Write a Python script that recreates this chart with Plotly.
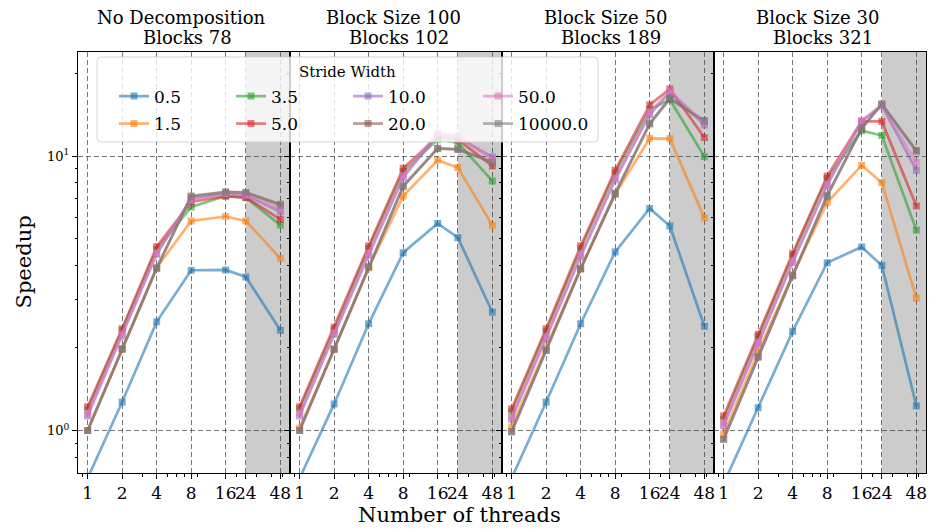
import math
import plotly.graph_objects as go
from plotly.subplots import make_subplots

# ---------------- data ----------------
threads = [1, 2, 4, 8, 16, 24, 48]
thread_labels = ["1", "2", "4", "8", "16", "24", "48"]
stride_widths = ["0.5", "1.5", "3.5", "5.0", "10.0", "20.0", "50.0", "10000.0"]
panel_titles = ["No Decomposition", "Block Size 100", "Block Size 50", "Block Size 30"]
panel_blocks = ["Blocks 78", "Blocks 102", "Blocks 189", "Blocks 321"]
y_tick_vals = [1, 10]
y_tick_text = ["10<sup>0</sup>", "10<sup>1</sup>"]

# speedup per stride width (rows follow stride_widths), columns follow threads
speedup_no_decomposition = [
    [0.67, 1.27, 2.49, 3.84, 3.85, 3.63, 2.32],
    [1.00, 1.98, 3.92, 5.81, 6.03, 5.81, 4.24],
    [1.19, 2.32, 4.58, 6.53, 7.16, 7.07, 5.61],
    [1.22, 2.35, 4.68, 6.81, 7.16, 7.07, 5.89],
    [1.13, 2.21, 4.39, 7.01, 7.30, 7.20, 6.28],
    [1.00, 1.98, 3.90, 7.16, 7.41, 7.38, 6.68],
    [1.15, 2.25, 4.45, 6.90, 7.30, 7.20, 6.40],
    [1.00, 1.99, 3.92, 7.12, 7.40, 7.36, 6.62],
]
speedup_block_100 = [
    [0.67, 1.25, 2.45, 4.45, 5.69, 5.05, 2.70],
    [1.02, 1.98, 3.92, 7.16, 9.67, 9.09, 5.60],
    [1.20, 2.33, 4.62, 8.80, 11.5, 11.2, 8.13],
    [1.22, 2.38, 4.71, 9.04, 11.8, 11.5, 9.22],
    [1.13, 2.24, 4.35, 8.36, 12.0, 11.7, 9.94],
    [1.00, 1.98, 3.95, 7.75, 10.67, 10.6, 9.53],
    [1.15, 2.28, 4.45, 8.50, 12.2, 11.9, 9.70],
    [1.00, 1.98, 3.95, 7.80, 10.7, 10.6, 9.50],
]
speedup_block_50 = [
    [0.67, 1.27, 2.45, 4.48, 6.45, 5.57, 2.40],
    [1.03, 2.00, 3.90, 7.27, 11.63, 11.6, 5.96],
    [1.17, 2.30, 4.60, 8.70, 14.8, 16.1, 9.97],
    [1.20, 2.35, 4.71, 8.89, 15.4, 17.6, 11.7],
    [1.10, 2.16, 4.30, 8.20, 14.2, 17.1, 13.0],
    [0.99, 1.96, 3.88, 7.30, 13.1, 16.2, 13.5],
    [1.12, 2.20, 4.40, 8.30, 14.5, 17.3, 13.2],
    [0.99, 1.96, 3.90, 7.35, 13.2, 16.3, 13.4],
]
speedup_block_30 = [
    [0.64, 1.21, 2.30, 4.09, 4.67, 4.00, 1.23],
    [0.97, 1.93, 3.70, 6.78, 9.27, 8.01, 3.04],
    [1.10, 2.20, 4.35, 8.30, 12.4, 11.9, 5.38],
    [1.13, 2.24, 4.43, 8.47, 13.4, 13.4, 6.59],
    [1.04, 2.07, 4.10, 7.84, 13.4, 15.3, 8.89],
    [0.93, 1.85, 3.66, 7.16, 12.6, 15.5, 10.5],
    [1.06, 2.10, 4.15, 7.90, 13.5, 15.4, 9.50],
    [0.93, 1.86, 3.68, 7.20, 12.7, 15.5, 10.4],
]
panels = [speedup_no_decomposition, speedup_block_100, speedup_block_50, speedup_block_30]

# ---------------- style ----------------
colors = ["#1f77b4", "#ff7f0e", "#2ca02c", "#d62728",
          "#9467bd", "#8c564b", "#e377c2", "#7f7f7f"]
FONT = "DejaVu Serif"
W, H = 939, 529
ML, MR, MT, MB = 78, 13, 52, 56
PW, PH = W - ML - MR, H - MT - MB


def rgba(hx, a):
    hx = hx.lstrip("#")
    return "rgba(%d,%d,%d,%.2f)" % (int(hx[0:2], 16), int(hx[2:4], 16), int(hx[4:6], 16), a)


def px_x(x):
    return (x - ML) / PW


def px_y(y):
    return (H - MB - y) / PH


legend_col_width = [72, 72, 85, 100]

fig = make_subplots(rows=1, cols=4, shared_yaxes=True, horizontal_spacing=0)

for p, data in enumerate(panels):
    for k, sw in enumerate(stride_widths):
        col, row = k // 2, k % 2
        fig.add_trace(
            go.Scatter(
                x=threads, y=data[k], mode="lines+markers", name=sw,
                line=dict(color=rgba(colors[k], 0.6), width=2.7),
                marker=dict(symbol="square", size=7, color=rgba(colors[k], 0.6),
                            line=dict(width=0)),
                showlegend=(p == 0),
                legend="legend" if row == 0 else "legend2",
                legendwidth=legend_col_width[col],
            ),
            row=1, col=p + 1,
        )

xr = [-0.05 * math.log10(48), 1.05 * math.log10(48)]
yr = [math.log10(0.7), math.log10(24)]
x_minor = [0.9, 2, 3, 4, 5, 6, 7, 8, 9, 20, 30, 40, 50]
y_minor = [0.8, 0.9, 2, 3, 4, 5, 6, 7, 8, 9, 20]
grid_col = "rgba(60,60,60,0.7)"

for i in range(4):
    sfx = "" if i == 0 else str(i + 1)
    fig.update_layout(**{
        "xaxis" + sfx: dict(
            type="log", range=xr, domain=[i / 4, (i + 1) / 4],
            tickmode="array", tickvals=threads, ticktext=thread_labels, tickangle=0,
            ticks="outside", ticklen=5, tickwidth=1, tickcolor="black",
            showline=True, linecolor="black", linewidth=1, mirror=True,
            showgrid=True, gridcolor=grid_col, griddash="5px,3px", gridwidth=1.1,
            zeroline=False, tickfont=dict(family=FONT, size=17, color="black"),
            minor=dict(tickmode="array", tickvals=x_minor, ticks="outside", ticklen=2.5,
                       tickwidth=0.8, tickcolor="black", showgrid=False),
        ),
        "yaxis" + sfx: dict(
            type="log", range=yr,
            tickmode="array", tickvals=y_tick_vals, ticktext=y_tick_text,
            showticklabels=(i == 0),
            ticks="outside", ticklen=5, tickwidth=1, tickcolor="black",
            showline=True, linecolor="black", linewidth=1, mirror=True,
            showgrid=True, gridcolor=grid_col, griddash="5px,3px", gridwidth=1.1,
            zeroline=False, tickfont=dict(family=FONT, size=13, color="black"),
            minor=dict(tickmode="array", tickvals=y_minor, ticks="outside", ticklen=2.5,
                       tickwidth=0.8, tickcolor="black", showgrid=False),
        ),
    })
    # shaded region (24 threads and beyond)
    fig.add_shape(type="rect", xref="x" + sfx, yref="y" + sfx + " domain",
                  x0=24, x1=10 ** xr[1], y0=0, y1=1,
                  fillcolor="#cccccc", line=dict(width=0), layer="below")
    # titles (two lines)
    cx = (i + 0.5) / 4
    fig.add_annotation(text=panel_titles[i], xref="paper", yref="paper", x=cx, y=px_y(17.5),
                       xanchor="center", yanchor="middle", showarrow=False, xshift=-3,
                       font=dict(family=FONT, size=18, color="black"))
    fig.add_annotation(text=panel_blocks[i], xref="paper", yref="paper", x=cx, y=px_y(37),
                       xanchor="center", yanchor="middle", showarrow=False, xshift=3,
                       font=dict(family=FONT, size=18, color="black"))

# legend frame (semi-transparent, rounded)
bx0, bx1, by0, by1 = px_x(97), px_x(598), px_y(142), px_y(57)
rx, ry = 4 / PW, 4 / PH
path = (f"M {bx0+rx},{by0} L {bx1-rx},{by0} Q {bx1},{by0} {bx1},{by0+ry} "
        f"L {bx1},{by1-ry} Q {bx1},{by1} {bx1-rx},{by1} L {bx0+rx},{by1} "
        f"Q {bx0},{by1} {bx0},{by1-ry} L {bx0},{by0+ry} Q {bx0},{by0} {bx0+rx},{by0} Z")
fig.add_shape(type="path", path=path, xref="paper", yref="paper",
              fillcolor="rgba(255,255,255,0.8)", line=dict(color="rgba(204,204,204,0.8)", width=1),
              layer="above")

fig.add_annotation(text="Stride Width", xref="paper", yref="paper", x=px_x(347), y=px_y(72),
                   xanchor="center", yanchor="middle", showarrow=False,
                   font=dict(family=FONT, size=15, color="black"))
fig.add_annotation(text="Speedup", xref="paper", yref="paper", x=px_x(23), y=0.5,
                   xanchor="center", yanchor="middle", showarrow=False, textangle=-90,
                   font=dict(family=FONT, size=21, color="black"))
fig.add_annotation(text="Number of threads", xref="paper", yref="paper", x=px_x(459), y=px_y(515),
                   xanchor="center", yanchor="middle", showarrow=False,
                   font=dict(family=FONT, size=21, color="black"))

leg_common = dict(orientation="h", xref="paper", yref="paper", xanchor="left", yanchor="middle",
                  bgcolor="rgba(0,0,0,0)", borderwidth=0,
                  font=dict(family=FONT, size=17, color="black"))
fig.update_layout(
    width=W, height=H,
    margin=dict(l=ML, r=MR, t=MT, b=MB),
    paper_bgcolor="white", plot_bgcolor="white",
    font=dict(family=FONT, color="black"),
    legend=dict(x=px_x(114), y=px_y(96.5), **leg_common),
    legend2=dict(x=px_x(114), y=px_y(124), **leg_common),
)

fig.write_html("out.html", config={"displayModeBar": False},
               post_script="document.body.style.margin='0';document.body.style.overflow='hidden';")
